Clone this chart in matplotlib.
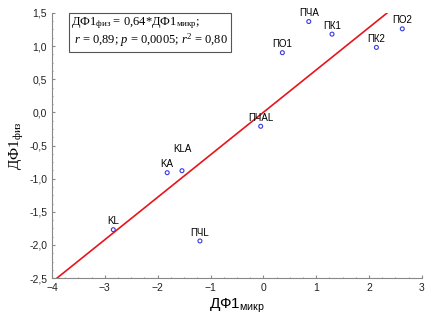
import numpy as np
import matplotlib
matplotlib.use('Agg')
import matplotlib.pyplot as plt
from matplotlib.ticker import MultipleLocator, FuncFormatter

# Points
labels = ['KL', 'KA', 'KLA', 'ПЧL', 'ПЧAL', 'ПО1', 'ПЧA', 'ПК1', 'ПК2', 'ПО2']
df_mikr = [-2.84, -1.82, -1.54, -1.20, -0.05, 0.36, 0.86, 1.30, 2.14, 2.63]
df_fiz = [-1.77, -0.91, -0.88, -1.94, -0.21, 0.90, 1.37, 1.18, 0.98, 1.26]
slope = 0.64

plt.rcParams['font.family'] = ['Liberation Sans', 'DejaVu Sans']
plt.rcParams['mathtext.fontset'] = 'custom'
plt.rcParams['mathtext.rm'] = 'Liberation Serif'
plt.rcParams['mathtext.it'] = 'Liberation Serif:italic'

fig = plt.figure(figsize=(4.3, 3.23), dpi=100)
ax = fig.add_axes([0.121, 0.139, 0.86, 0.821])

# regression line through the origin
xl = np.array([-4, 3])
ax.plot(xl, slope * xl, color='#e8141c', lw=1.2, zorder=2)

ax.scatter(df_mikr, df_fiz, s=8, facecolors='none', edgecolors='#3a3ae0',
           linewidths=0.8, zorder=3)

for name, x, y in zip(labels, df_mikr, df_fiz):
    dy = 12 if name == 'KLA' else 2.5
    ax.annotate(name, (x, y), xytext=(0, dy), textcoords='offset points',
                ha='center', va='bottom', fontsize=7)

ax.set_xlim(-4, 3)
ax.set_ylim(-2.5, 1.5)
ax.xaxis.set_major_locator(MultipleLocator(1))
ax.yaxis.set_major_locator(MultipleLocator(0.5))
ax.xaxis.set_minor_locator(MultipleLocator(0.25))
ax.yaxis.set_minor_locator(MultipleLocator(0.125))
ax.yaxis.set_major_formatter(FuncFormatter(lambda v, p: f'{v:.1f}'.replace('.', ',')))

for s in ['top', 'right']:
    ax.spines[s].set_visible(False)
for s in ['left', 'bottom']:
    ax.spines[s].set_color('#888888')
    ax.spines[s].set_linewidth(0.8)
ax.tick_params(which='both', direction='in', color='#888888', labelsize=7.5,
               labelcolor='#222222')
ax.tick_params(which='major', length=2)
ax.tick_params(which='minor', length=1)

ax.set_xlabel('ДФ1$_{\\mathregular{микр}}$', fontsize=11, labelpad=3)
ax.set_ylabel('ДФ1$_{\\mathregular{физ}}$', fontsize=11, family=['Liberation Serif'], labelpad=2)

box_text = ('ДФ1$_{\\mathregular{физ}}$ = 0,64*ДФ1$_{\\mathregular{микр}}$;\n'
            ' $\\mathit{r}$ = 0,89; $\\mathit{p}$ = 0,0005; $\\mathit{r}^{\\mathregular{2}}$ = 0,80')
ax.text(0.052, 0.99, box_text, transform=ax.transAxes, ha='left', va='top',
        fontsize=9, family=['Liberation Serif'], linespacing=1.05,
        bbox=dict(boxstyle='square,pad=0.2', fc='white', ec='#555555', lw=0.8))

fig.savefig('out.png', dpi=100)
